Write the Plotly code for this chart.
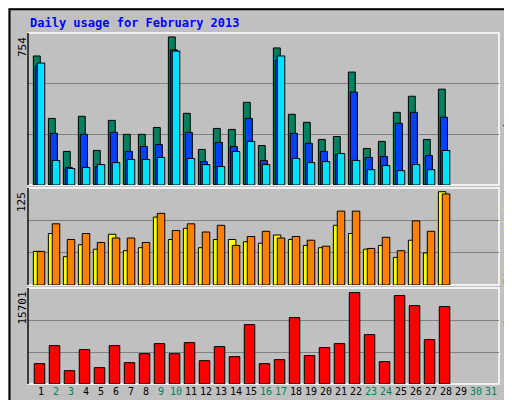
import plotly.graph_objects as go

days = list(range(1, 29))
hits = [657, 339, 171, 350, 176, 329, 258, 258, 293, 754, 365, 181, 288, 283,
        421, 201, 698, 360, 319, 232, 247, 575, 186, 222, 370, 452, 232, 488]
files = [606, 263, 89, 258, 94, 268, 171, 196, 206, 688, 268, 119, 217, 196,
         339, 125, 636, 263, 212, 171, 155, 473, 140, 145, 314, 370, 150, 345]
pages = [621, 125, 84, 89, 104, 114, 130, 130, 140, 682, 135, 104, 94, 171,
         222, 104, 657, 135, 114, 119, 160, 125, 78, 99, 73, 104, 78, 176]
sites = [45, 69, 38, 54, 48, 68, 46, 50, 91, 61, 76, 50, 61, 61,
         58, 56, 67, 61, 53, 50, 80, 69, 48, 53, 37, 60, 43, 125]
visits = [45, 82, 61, 69, 57, 63, 63, 57, 96, 73, 82, 71, 80, 53,
          65, 72, 63, 65, 60, 52, 99, 99, 49, 64, 46, 86, 72, 122]
kbytes = [3495, 6590, 2292, 5902, 2808, 6590, 3667, 5214, 6933, 5214, 7105, 4011, 6418, 4699,
          10200, 3495, 4183, 11403, 4871, 6246, 6933, 15701, 8481, 3839, 15185, 13466, 7621, 13294]
weekend = [2, 3, 9, 10, 16, 17, 23, 24, 30, 31]

MONO = "DejaVu Sans Mono"
fig = go.Figure()

def bars(vals, color, offset, width, yaxis):
    fig.add_trace(go.Bar(x=days, y=vals, offset=offset, width=width, yaxis=yaxis,
                         marker=dict(color=color, line=dict(color="black", width=1)),
                         showlegend=False, hoverinfo="skip"))

bars(hits, "#00805c", -0.51, 0.46, "y")
bars(files, "#0040ff", -0.38, 0.47, "y")
bars(pages, "#00e0ff", -0.25, 0.5, "y")
bars(sites, "#ffff00", -0.51, 0.5, "y2")
bars(visits, "#ff8000", -0.25, 0.5, "y2")
bars(kbytes, "#ff0000", -0.45, 0.7, "y3")

xr = [0.133, 31.53]
xdom = [20 / 512, 491 / 512]
tops = [774, 130, 16490]
doms = [[1 - 177 / 400, 1 - 25 / 400], [1 - 277 / 400, 1 - 180 / 400], [1 - 376 / 400, 1 - 280 / 400]]

ticktext = [f"<span style='color:#00805c'>{d}</span>" if d in weekend else str(d) for d in range(1, 32)]

layout = dict(
    width=512, height=400, margin=dict(l=0, r=0, t=0, b=0),
    paper_bgcolor="#c0c0c0", plot_bgcolor="#c0c0c0", barmode="overlay",
    font=dict(family=MONO, size=11, color="black"),
    xaxis=dict(domain=xdom, range=xr, anchor="y3", tickvals=list(range(1, 32)), ticktext=ticktext,
               tickangle=0, showgrid=False, zeroline=False, ticks="", ticklen=0,
               tickfont=dict(family=MONO, size=10)),
)
for i, (top, dom) in enumerate(zip(tops, doms)):
    key = "yaxis" if i == 0 else f"yaxis{i+1}"
    layout[key] = dict(domain=dom, range=[0, top], tickvals=[top / 3, 2 * top / 3],
                       showticklabels=False, gridcolor="#808080", gridwidth=1,
                       zeroline=False, anchor="x", fixedrange=True)
fig.update_layout(**layout)

shapes = [dict(type="rect", xref="paper", yref="paper", x0=0.003, y0=0.003, x1=0.997, y1=0.997,
               line=dict(color="black", width=2)),
          dict(type="line", xref="paper", yref="paper", x0=0.006, y0=0.008, x1=0.994, y1=0.008,
               line=dict(color="#808080", width=3)),
          dict(type="line", xref="paper", yref="paper", x0=0.992, y0=0.008, x1=0.992, y1=0.992,
               line=dict(color="#808080", width=3))]
for dom in doms:
    shapes.append(dict(type="rect", xref="paper", yref="paper", x0=xdom[0], x1=xdom[1],
                       y0=dom[0], y1=dom[1], line=dict(color="white", width=1.5), layer="below"))
    shapes.append(dict(type="line", xref="paper", yref="paper", x0=xdom[0], x1=xdom[0],
                       y0=dom[0], y1=dom[1], line=dict(color="black", width=1.5)))
fig.update_layout(shapes=shapes)

ann = [dict(x=20 / 512, y=1 - 15 / 400, xref="paper", yref="paper", xanchor="left", yanchor="middle",
            text="<b>Daily usage for February 2013</b>", showarrow=False,
            font=dict(family=MONO, size=12, color="#0000ff"))]
for lab, dom in zip(["754", "125", "15701"], doms):
    ann.append(dict(x=14 / 512, y=dom[1] - 0.005, xref="paper", yref="paper", xanchor="center",
                    yanchor="top", text=lab, textangle=-90, showarrow=False,
                    font=dict(family=MONO, size=11)))

# right-hand rotated legends, word by word from the top down
right = [[("Hits", "#00805c"), (" / ", "black"), ("Files", "#0040ff"), (" / ", "black"), ("Pages", "#00e0ff")],
         [("Visits", "#ffff00"), (" / ", "black"), ("Sites", "#ff8000")],
         [("KBytes", "#ff0000")]]
CH = 6.7
for parts, dom in zip(right, doms):
    ypx = (1 - dom[1]) * 400 + 2
    for word, col in parts:
        n = len(word.strip())
        pad = (len(word) - n) / 2 * CH
        ann.append(dict(x=500 / 512, y=1 - (ypx + pad) / 400, xref="paper", yref="paper",
                        xanchor="center", yanchor="top", text=word.strip(), textangle=-90,
                        showarrow=False, font=dict(family=MONO, size=11, color=col)))
        ypx += len(word) * CH
fig.update_layout(annotations=ann)

fig.write_html("out.html")
